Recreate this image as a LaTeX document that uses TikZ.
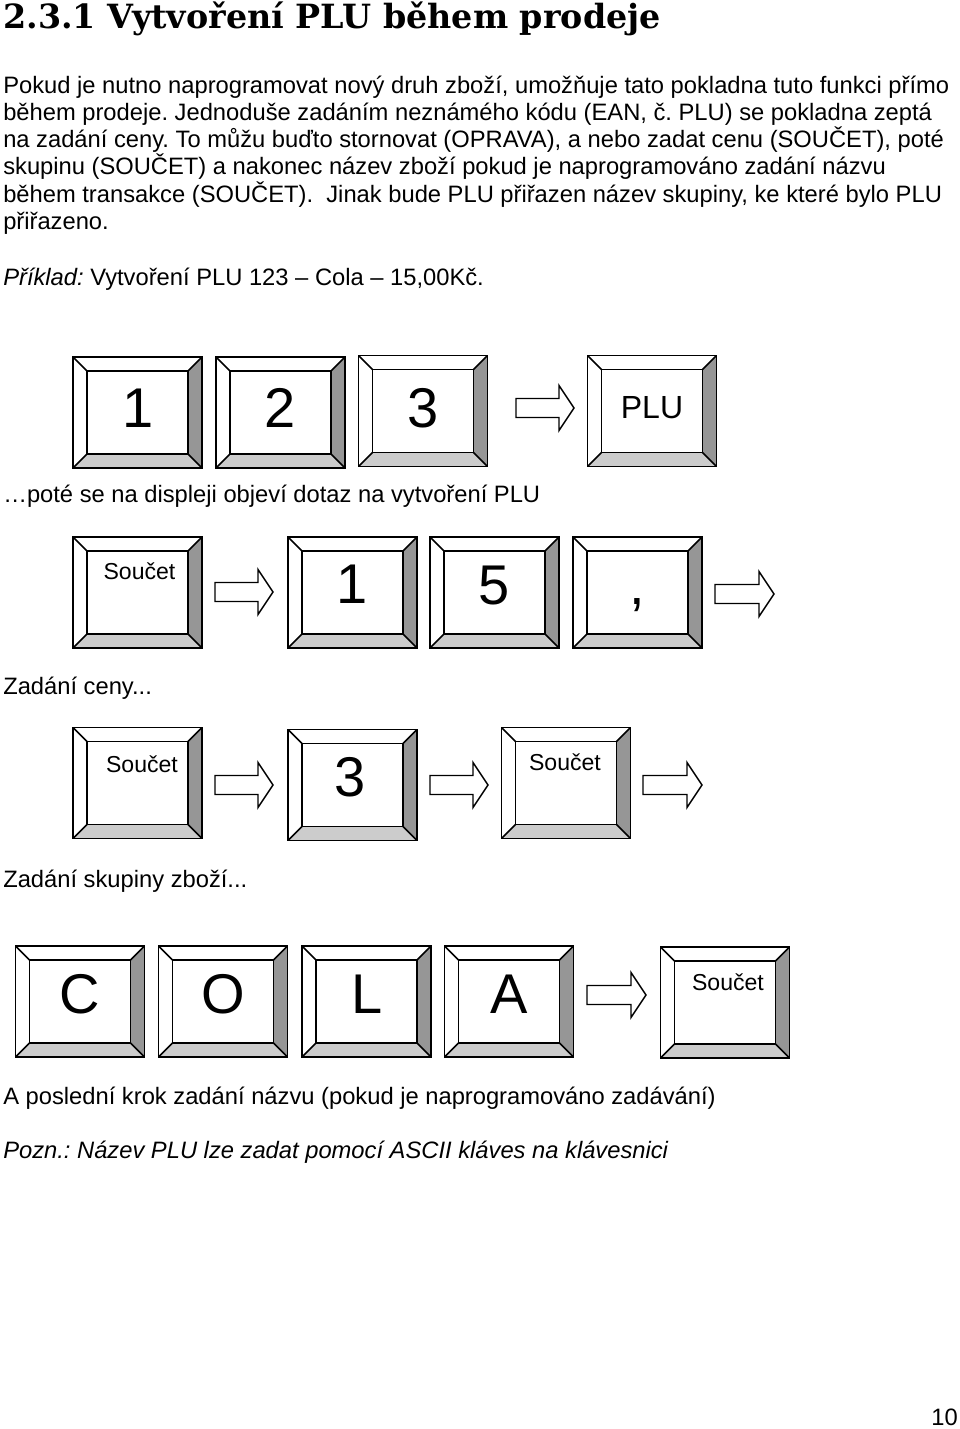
\documentclass[tikz,border=0pt]{standalone}
\usepackage{fontspec}
\setmainfont{Liberation Sans}
\newfontfamily\titlefont{DejaVu Serif}
\frenchspacing
\definecolor{keydark}{HTML}{969696}
\definecolor{keylight}{HTML}{CCCCCC}
\newcommand\blockarr[4]{%
  \draw[blockarrow] (#2,#4-9.5) -- (#3-15,#4-9.5) -- (#3-15,#4-22.5) -- (#3,#4)
     -- (#3-15,#4+22.5) -- (#3-15,#4+9.5) -- (#2,#4+9.5) -- cycle;
  \coordinate (#1) at (#3,#4);}
\tikzset{
  keycap/.style={draw=black, line width=1.4pt, fill=white, inner sep=0pt,
    minimum width=129*0.75pt, minimum height=111*0.75pt,
    path picture={
      \fill[keydark] (path picture bounding box.north east) -- (path picture bounding box.south east)
        -- ([shift={(-10.5pt,10.5pt)}]path picture bounding box.south east)
        -- ([shift={(-10.5pt,-10.5pt)}]path picture bounding box.north east) -- cycle;
      \fill[keylight] (path picture bounding box.south west) -- (path picture bounding box.south east)
        -- ([shift={(-10.5pt,10.5pt)}]path picture bounding box.south east)
        -- ([shift={(10.5pt,10.5pt)}]path picture bounding box.south west) -- cycle;
      \draw[line width=1.4pt] ([shift={(10.5pt,-10.5pt)}]path picture bounding box.north west)
        rectangle ([shift={(-10.5pt,10.5pt)}]path picture bounding box.south east);
      \draw[line width=1.1pt] (path picture bounding box.north west) -- ([shift={(10.5pt,-10.5pt)}]path picture bounding box.north west)
        (path picture bounding box.north east) -- ([shift={(-10.5pt,-10.5pt)}]path picture bounding box.north east)
        (path picture bounding box.south west) -- ([shift={(10.5pt,10.5pt)}]path picture bounding box.south west)
        (path picture bounding box.south east) -- ([shift={(-10.5pt,10.5pt)}]path picture bounding box.south east);
    }},
  blockarrow/.style={draw=black, line width=1.1pt, fill=white, line join=miter},
  body/.style={anchor=base west, inner sep=0pt, font=\fontsize{17.8}{21}\selectfont},
  big/.style={anchor=base, inner sep=0pt, font=\fontsize{42}{42}\selectfont},
  mid/.style={anchor=base, inner sep=0pt, font=\fontsize{24}{24}\selectfont},
  small/.style={anchor=base, inner sep=0pt, font=\fontsize{17.3}{18}\selectfont},
}
\begin{document}
\begin{tikzpicture}[x=0.75pt, y=-0.75pt]
\useasboundingbox[fill=white] (0,0) rectangle (960,1429);

% title and paragraph
\node[anchor=base west, inner sep=0pt, font=\titlefont\bfseries\fontsize{25}{28}\selectfont] (title) at (3,28.5) {2.3.1 Vytvoření PLU během prodeje};
\node[body] (p1) at (3,93) {Pokud je nutno naprogramovat nový druh zboží, umožňuje tato pokladna tuto funkci přímo};
\node[body] (p2) at (3,120) {během prodeje. Jednoduše zadáním neznámého kódu (EAN, č. PLU) se pokladna zeptá};
\node[body] (p3) at (3,147) {na zadání ceny. To můžu buďto stornovat (OPRAVA), a nebo zadat cenu (SOUČET), poté};
\node[body] (p4) at (3,174.5) {skupinu (SOUČET) a nakonec název zboží pokud je naprogramováno zadání názvu};
\node[body] (p5) at (3,202) {během transakce (SOUČET).\ \ Jinak bude PLU přiřazen název skupiny, ke které bylo PLU};
\node[body] (p6) at (3,229.5) {přiřazeno.};
\node[body] (ex) at (3,285) {\textit{Příklad:} Vytvoření PLU 123 – Cola – 15,00Kč.};

% row 1
\node[keycap] (k1) at (137.5,412.5) {};
\node[keycap] (k2) at (280.5,412.5) {};
\node[keycap] (k3) at (423,411) {};
\node[keycap] (kplu) at (652,411) {};
\node[big] at (138,427) {1};
\node[big] at (280,427) {2};
\node[big] at (423,427) {3};
\node[mid] at (652,418) {PLU};
\blockarr{a1}{516}{574}{408}

\node[body] (t1) at (3,502) {\dots poté se na displeji objeví dotaz na vytvoření PLU};

% row 2
\node[keycap] (s1) at (137.5,592.5) {};
\node[keycap] (r1) at (352.5,592.5) {};
\node[keycap] (r5) at (494.5,592.5) {};
\node[keycap] (rc) at (637.5,592.5) {};
\node[small] at (139.5,579) {Součet};
\node[big] at (352,603) {1};
\node[big] at (494,604) {5};
\node[big] at (637,604) {,};
\blockarr{a2}{215}{273}{592}
\blockarr{a3}{715}{774}{594}

\node[body] (t2) at (3,694) {Zadání ceny...};

% row 3
\node[keycap] (s2) at (137.5,783) {};
\node[keycap] (g3) at (352.5,785) {};
\node[keycap] (s3) at (566,783) {};
\node[small] at (142,772) {Součet};
\node[big] at (350,796) {3};
\node[small] at (565,770) {Součet};
\blockarr{a4}{215}{273}{785}
\blockarr{a5}{430}{488}{785}
\blockarr{a6}{643}{702}{785}

\node[body] (t3) at (3,887) {Zadání skupiny zboží...};

% row 4
\node[keycap] (kc) at (80,1001.5) {};
\node[keycap] (ko) at (223,1001.5) {};
\node[keycap] (kl) at (366.5,1001.5) {};
\node[keycap] (ka) at (509,1001.5) {};
\node[keycap] (s4) at (725,1002.5) {};
\node[big] at (80,1013) {C};
\node[big] at (223,1013) {O};
\node[big] at (367,1013) {L};
\node[big] at (509,1013) {A};
\node[small] at (728,990) {Součet};
\blockarr{a7}{587}{646}{995}

\node[body] (t4) at (3,1104) {A poslední krok zadání názvu (pokud je naprogramováno zadávání)};
\node[body] (t5) at (3,1158) {\textit{Pozn.: Název PLU lze zadat pomocí ASCII kláves na klávesnici}};
\node[anchor=base east, inner sep=0pt, font=\fontsize{17.8}{21}\selectfont] (pg) at (958,1425) {10};
\end{tikzpicture}
\end{document}
